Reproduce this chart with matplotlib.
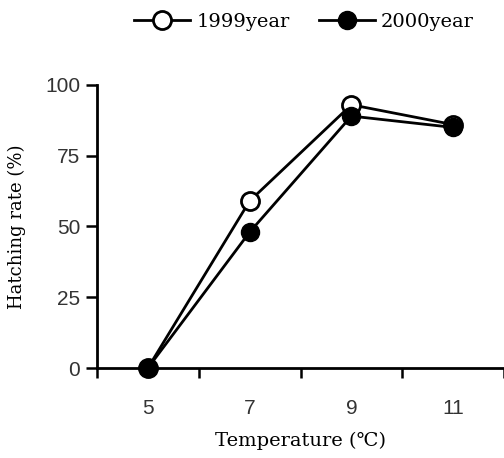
import numpy as np
import matplotlib
matplotlib.use('Agg')
from matplotlib import pyplot as plt

temperature = [5, 7, 9, 11]
rate_1999 = [0, 59, 93, 86]
rate_2000 = [0, 48, 89, 85]
y_ticks = [0, 25, 50, 75, 100]

serif = ['DejaVu Serif']

fig = plt.figure(figsize=(5.04, 4.58), dpi=100)
ax = fig.add_axes([0.1925, 0.1965, 0.8075, 0.618])

ax.plot(temperature, rate_1999, '-o', color='black', lw=2, ms=13,
        mfc='white', mec='black', mew=2, clip_on=False, zorder=3,
        label='1999year')
ax.plot(temperature, rate_2000, '-o', color='black', lw=2, ms=13,
        mfc='black', mec='black', clip_on=False, zorder=4,
        label='2000year')

ax.set_xlim(4, 12)
ax.set_ylim(0, 100)
ax.set_xticks(temperature)
ax.set_xticks([4, 6, 8, 10, 12], minor=True)
ax.set_yticks(y_ticks)
ax.tick_params(axis='x', which='major', length=0, pad=22, labelsize=15)
ax.tick_params(axis='x', which='minor', length=7, width=1.8, direction='out')
ax.tick_params(axis='y', length=8, width=1.8, direction='out', labelsize=15, pad=4)
for lab in ax.get_xticklabels() + ax.get_yticklabels():
    lab.set_family(['Liberation Sans', 'DejaVu Sans'])
    lab.set_color('#333333')

for side in ['top', 'right']:
    ax.spines[side].set_visible(False)
for side in ['left', 'bottom']:
    ax.spines[side].set_linewidth(2)

ax.set_xlabel('Temperature (\u2103)', family=serif, fontsize=14, labelpad=10)
ax.set_ylabel('Hatching rate (%)', family=serif, fontsize=13, labelpad=14)

fig.legend(loc='center', bbox_to_anchor=(0.603, 0.952), ncol=2, frameon=False,
           prop={'family': serif, 'size': 14}, handlelength=2.9,
           columnspacing=1.5, handletextpad=0.3)

plt.savefig('out.png', format='png')
plt.close()
